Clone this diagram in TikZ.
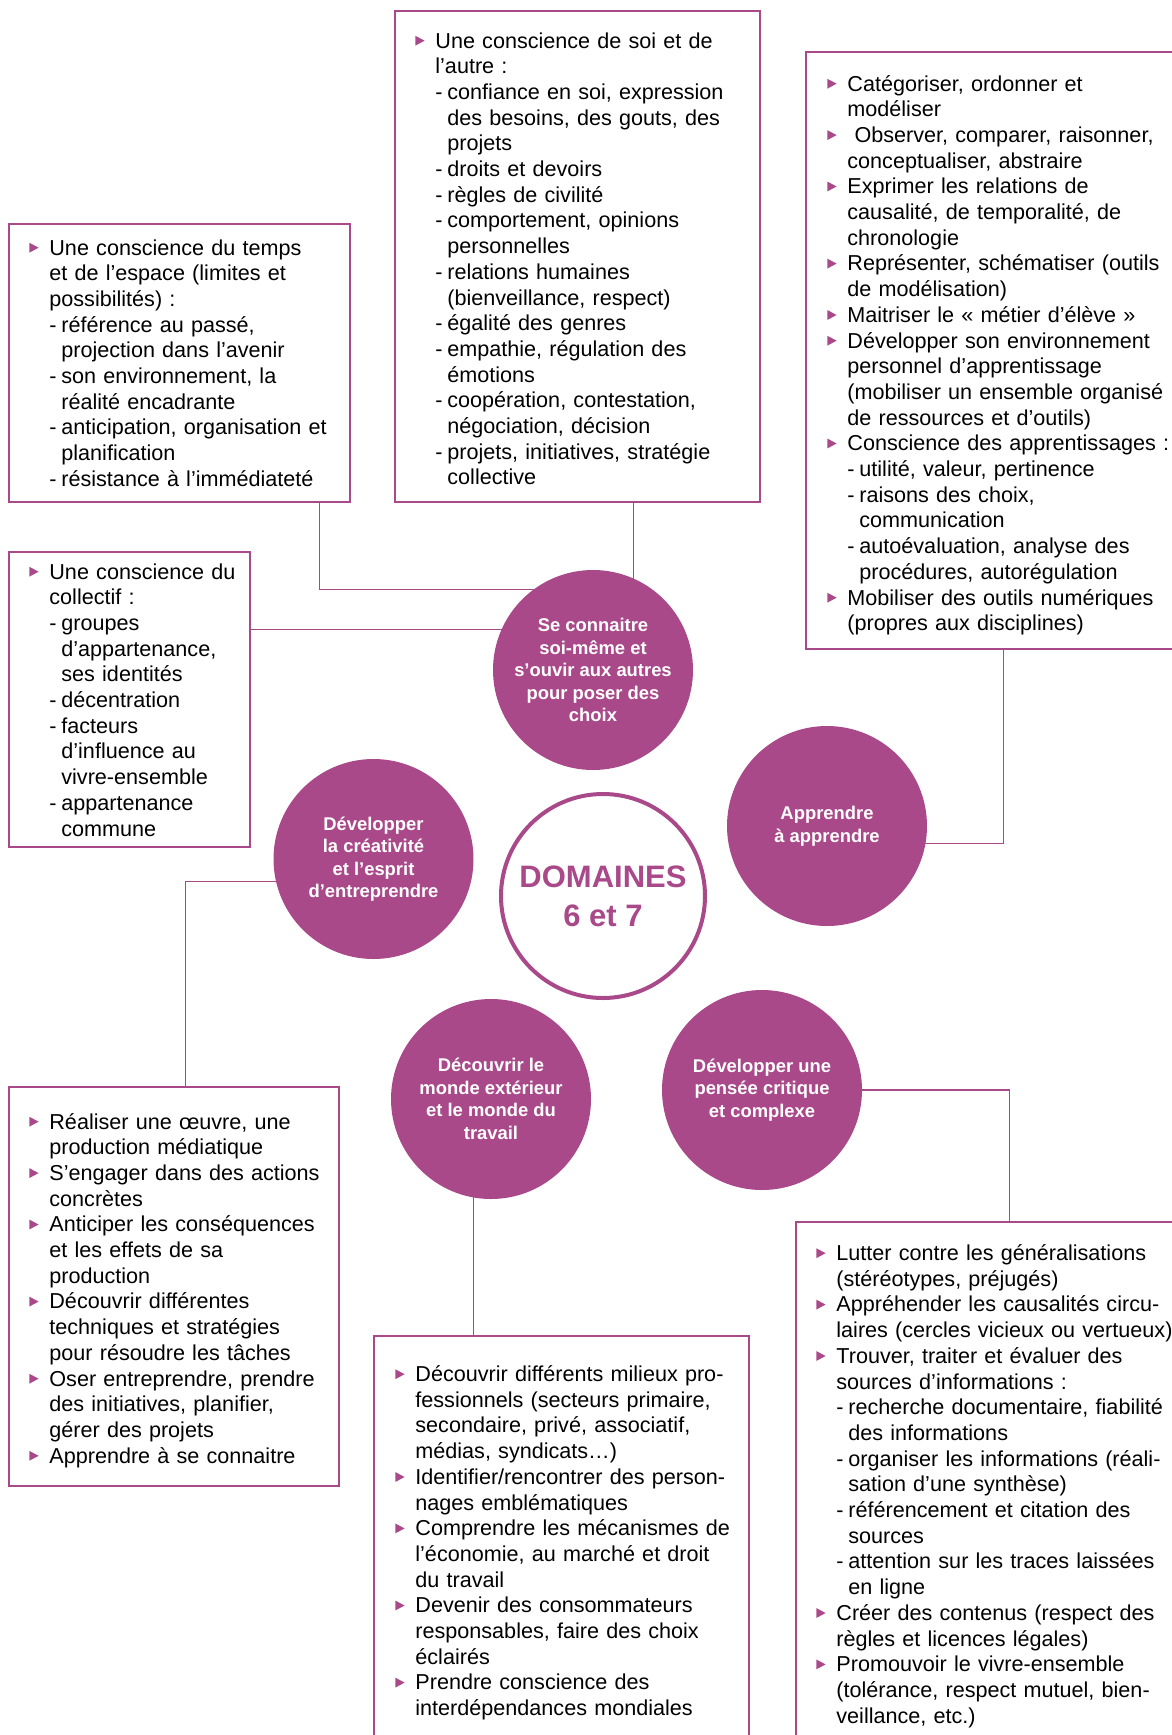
\documentclass[tikz,border=0pt]{standalone}
\usepackage{xcolor}
\usepackage{fontspec}
\setmainfont{Liberation Sans}
\usepackage{tikz}
\usetikzlibrary{fit}

\definecolor{mauve}{RGB}{170,73,138}

\newcommand\tri{\tikz[baseline=0pt]\fill[mauve] (0pt,1.2pt) -- (0pt,6.1pt) -- (4.6pt,3.65pt) -- cycle;}
\newcommand\fitem{\hangindent=10pt\hangafter=1\noindent\makebox[10pt][l]{\tri}}
\newcommand\bitem{\par\fitem}
\newcommand\ditem{\par\hangindent=16pt\hangafter=1\noindent\hspace*{10pt}\makebox[6pt][l]{-}}

\begin{document}
\begin{tikzpicture}[x=.5pt, y=-.5pt]
\tikzstyle{frame} = [draw=mauve, line width=.6pt, inner sep=0pt]
\tikzstyle{txt} = [anchor=base west, inner sep=0pt, text width=200pt, align=left, font=\fontsize{10.8}{12.85}\selectfont]
\tikzstyle{disc} = [circle, fill=mauve, minimum size=100pt, inner sep=0pt, outer sep=0pt, text=white, align=center, font=\bfseries\fontsize{9.2}{11.25}\selectfont]
\tikzstyle{hub} = [circle, draw=mauve, line width=2pt, fill=white, minimum size=102pt, inner sep=0pt, text=mauve, align=center, font=\bfseries\fontsize{15.5}{19.5}\selectfont]
\tikzstyle{link} = [draw=mauve, line width=.6pt]
  \useasboundingbox (0,0) rectangle (1172,1735);
  \clip (0,0) rectangle (1172,1735);

  % boxes
  \node (bTemps) [frame, fit={(9,224) (350,502)}] {};
  \node (bSoi) [frame, fit={(395,11) (760,502)}] {};
  \node (bApp) [frame, fit={(806,52) (1185,649)}] {};
  \node (bColl) [frame, fit={(9,552) (250,847)}] {};
  \node (bEntr) [frame, fit={(9,1087) (339,1486)}] {};
  \node (bMonde) [frame, fit={(374,1336) (749,1750)}] {};
  \node (bCrit) [frame, fit={(796,1222) (1185,1750)}] {};

  \node (tTemps) [txt] at (29,255) {%
    \fitem Une conscience du temps\newline et de l’espace (limites et\newline possibilités)~:
    \ditem référence au passé,\newline projection dans l’avenir
    \ditem son environnement, la\newline réalité encadrante
    \ditem anticipation, organisation et\newline planification
    \ditem résistance à l’immédiateté\par};
  \node (tSoi) [txt] at (415,48) {%
    \fitem Une conscience de soi et de\newline l’autre~:
    \ditem confiance en soi, expression\newline des besoins, des gouts, des\newline projets
    \ditem droits et devoirs
    \ditem règles de civilité
    \ditem comportement, opinions\newline personnelles
    \ditem relations humaines\newline (bienveillance, respect)
    \ditem égalité des genres
    \ditem empathie, régulation des\newline émotions
    \ditem coopération, contestation,\newline négociation, décision
    \ditem projets, initiatives, stratégie\newline collective\par};
  \node (tApp) [txt] at (827,91) {%
    \fitem Catégoriser, ordonner et\newline modéliser
    \bitem\ Observer, comparer, raisonner,\newline conceptualiser, abstraire
    \bitem Exprimer les relations de\newline causalité, de temporalité, de\newline chronologie
    \bitem Représenter, schématiser (outils\newline de modélisation)
    \bitem Maitriser le «~métier d’élève~»
    \bitem Développer son environnement\newline personnel d’apprentissage\newline (mobiliser un ensemble organisé\newline de ressources et d’outils)
    \bitem Conscience des apprentissages~:
    \ditem utilité, valeur, pertinence
    \ditem raisons des choix,\newline communication
    \ditem autoévaluation, analyse des\newline procédures, autorégulation
    \bitem Mobiliser des outils numériques\newline (propres aux disciplines)\par};
  \node (tColl) [txt] at (29,579) {%
    \fitem Une conscience du\newline collectif~:
    \ditem groupes\newline d’appartenance,\newline ses identités
    \ditem décentration
    \ditem facteurs\newline d’influence au\newline vivre-ensemble
    \ditem appartenance\newline commune\par};
  \node (tEntr) [txt] at (29,1129) {%
    \fitem Réaliser une œuvre, une\newline production médiatique
    \bitem S’engager dans des actions\newline concrètes
    \bitem Anticiper les conséquences\newline et les effets de sa\newline production
    \bitem Découvrir différentes\newline techniques et stratégies\newline pour résoudre les tâches
    \bitem Oser entreprendre, prendre\newline des initiatives, planifier,\newline gérer des projets
    \bitem Apprendre à se connaitre\par};
  \node (tMonde) [txt] at (395,1381.5) {%
    \fitem Découvrir différents milieux pro-\newline fessionnels (secteurs primaire,\newline secondaire, privé, associatif,\newline médias, syndicats…)
    \bitem Identifier/rencontrer des person-\newline nages emblématiques
    \bitem Comprendre les mécanismes de\newline l’économie, au marché et droit\newline du travail
    \bitem Devenir des consommateurs\newline responsables, faire des choix\newline éclairés
    \bitem Prendre conscience des\newline interdépendances mondiales\par};
  \node (tCrit) [txt] at (816,1260.5) {%
    \fitem Lutter contre les généralisations\newline (stéréotypes, préjugés)
    \bitem Appréhender les causalités circu-\newline laires (cercles vicieux ou vertueux)
    \bitem Trouver, traiter et évaluer des\newline sources d’informations~:
    \ditem recherche documentaire, fiabilité\newline des informations
    \ditem organiser les informations (réali-\newline sation d’une synthèse)
    \ditem référencement et citation des\newline sources
    \ditem attention sur les traces laissées\newline en ligne
    \bitem Créer des contenus (respect des\newline règles et licences légales)
    \bitem Promouvoir le vivre-ensemble\newline (tolérance, respect mutuel, bien-\newline veillance, etc.)\par};

  % circles
  \path
  node (cSoi) [disc] at (593,670) {Se connaitre\\soi-même et\\s’ouvir aux autres\\pour poser des\\choix}
  node (cApp) [disc] at (827,826) {Apprendre\\à apprendre}
  node (cCrea) [disc] at (373.5,859) {Développer\\la créativité\\et l’esprit\\d’entreprendre}
  node (cMonde) [disc] at (491,1099) {Découvrir le\\monde extérieur\\et le monde du\\travail}
  node (cCrit) [disc] at (762,1090) {Développer une\\pensée critique\\et complexe}
  node (cDom) [hub] at (603,896) {DOMAINES\\6 et 7};

  \draw [link] (cSoi.126) -| ([xshift=155.5pt]bTemps.south west);
  \draw [link] (cSoi.66) -- (cSoi.66 |- bSoi.south);
  \draw [link] (cSoi.156) -- (cSoi.156 -| bColl.east);
  \draw [link] (cApp.350) -| ([xshift=99pt]bApp.south west);
  \draw [link] (cCrea.193) -| ([xshift=88.5pt]bEntr.north west);
  \draw [link] (cMonde.260) -- (cMonde.260 |- bMonde.north);
  \draw [link] (cCrit.east) -| ([xshift=107pt]bCrit.north west);
\end{tikzpicture}
\end{document}
